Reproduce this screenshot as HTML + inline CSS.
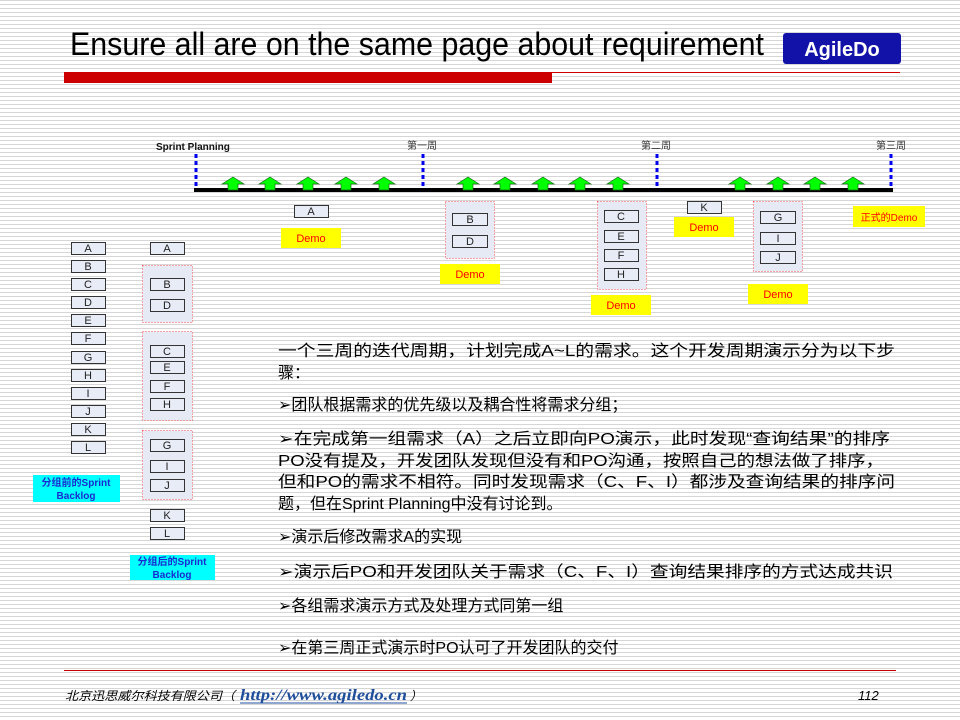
<!DOCTYPE html>
<html><head><meta charset="utf-8"><style>
html,body{margin:0;padding:0;}
body{width:960px;height:720px;overflow:hidden;background:#fff repeating-linear-gradient(to bottom,#d6d6d6 0,#d6d6d6 1px,#fff 1px,#fff 4px);}
svg{position:absolute;left:0;top:0;}
.t{font-family:"Liberation Sans","Noto Sans CJK SC",sans-serif;}
.b{font-family:"Liberation Sans",sans-serif;font-size:11px;fill:#222;text-anchor:middle;}
.d{font-family:"Liberation Sans",sans-serif;font-size:11px;fill:#ff0000;text-anchor:middle;}
.body{font-family:"Liberation Sans","Noto Sans CJK SC",sans-serif;font-size:16px;fill:#000;}
</style></head><body>
<svg width="960" height="720" viewBox="0 0 960 720">
<defs>
<g id="ar"><polygon points="0,7 11,0 22,7 16,7 16,13 6,13 6,7" fill="#00ff00" stroke="#1a6a1a" stroke-width="0.7"/></g>
</defs>
<!-- header -->
<text x="70" y="55" class="t" font-size="32" textLength="694" lengthAdjust="spacingAndGlyphs">Ensure all are on the same page about requirement</text>
<rect x="783" y="33" width="118" height="31" rx="3" fill="#1212a8"/>
<text x="842" y="56" font-family="Liberation Sans,sans-serif" font-weight="bold" font-size="20" fill="#fff" text-anchor="middle">AgileDo</text>
<rect x="64" y="72" width="488" height="11" fill="#cc0000"/>
<line x1="552" y1="72.5" x2="900" y2="72.5" stroke="#cc0000" stroke-width="1"/>

<!-- timeline -->
<text x="156" y="150" font-family="Liberation Sans,sans-serif" font-weight="bold" font-size="10" fill="#111">Sprint Planning</text>
<text x="407" y="149" class="t" font-size="10" fill="#333">第一周</text>
<text x="641" y="149" class="t" font-size="10" fill="#333">第二周</text>
<text x="876" y="149" class="t" font-size="10" fill="#333">第三周</text>
<g stroke="#0000ee" stroke-width="3" stroke-dasharray="4,3">
<line x1="196" y1="154" x2="196" y2="190"/>
<line x1="423" y1="154" x2="423" y2="190"/>
<line x1="657" y1="154" x2="657" y2="190"/>
<line x1="891" y1="154" x2="891" y2="190"/>
</g>
<rect x="194" y="188" width="699" height="4" fill="#000"/>
<use href="#ar" x="222" y="177"/><use href="#ar" x="259" y="177"/><use href="#ar" x="297" y="177"/><use href="#ar" x="335" y="177"/><use href="#ar" x="373" y="177"/>
<use href="#ar" x="457" y="177"/><use href="#ar" x="494" y="177"/><use href="#ar" x="532" y="177"/><use href="#ar" x="569" y="177"/><use href="#ar" x="607" y="177"/>
<use href="#ar" x="729" y="177"/><use href="#ar" x="767" y="177"/><use href="#ar" x="804" y="177"/><use href="#ar" x="842" y="177"/>

<!-- groups -->
<g fill="#e6eaf4" stroke="#ff5050" stroke-width="1" stroke-dasharray="1,2">
<rect x="445.5" y="201.5" width="49" height="57"/>
<rect x="597.5" y="201.5" width="49" height="88"/>
<rect x="753.5" y="201.5" width="49" height="70"/>
<rect x="142.5" y="265.5" width="50" height="57"/>
<rect x="142.5" y="331.5" width="50" height="89"/>
<rect x="142.5" y="430.5" width="50" height="69"/>
</g>
<g fill="#e8ecf6" stroke="#333" stroke-width="1">
<rect x="294.5" y="205.5" width="34" height="12"/>
<rect x="452.5" y="213.5" width="35" height="12"/><rect x="452.5" y="235.5" width="35" height="12"/>
<rect x="604.5" y="210.5" width="34" height="12"/><rect x="604.5" y="230.5" width="34" height="12"/><rect x="604.5" y="249.5" width="34" height="12"/><rect x="604.5" y="268.5" width="34" height="12"/>
<rect x="687.5" y="201.5" width="34" height="12"/>
<rect x="760.5" y="211.5" width="35" height="12"/><rect x="760.5" y="232.5" width="35" height="12"/><rect x="760.5" y="251.5" width="35" height="12"/>
<rect x="71.5" y="242.5" width="34" height="12"/><rect x="71.5" y="260.5" width="34" height="12"/><rect x="71.5" y="278.5" width="34" height="12"/><rect x="71.5" y="296.5" width="34" height="12"/><rect x="71.5" y="314.5" width="34" height="12"/><rect x="71.5" y="332.5" width="34" height="12"/><rect x="71.5" y="351.5" width="34" height="12"/><rect x="71.5" y="369.5" width="34" height="12"/><rect x="71.5" y="387.5" width="34" height="12"/><rect x="71.5" y="405.5" width="34" height="12"/><rect x="71.5" y="423.5" width="34" height="12"/><rect x="71.5" y="441.5" width="34" height="12"/>
<rect x="150.5" y="242.5" width="34" height="12"/>
<rect x="150.5" y="278.5" width="34" height="12"/><rect x="150.5" y="299.5" width="34" height="12"/>
<rect x="150.5" y="345.5" width="34" height="12"/><rect x="150.5" y="361.5" width="34" height="12"/><rect x="150.5" y="380.5" width="34" height="12"/><rect x="150.5" y="398.5" width="34" height="12"/>
<rect x="150.5" y="439.5" width="34" height="12"/><rect x="150.5" y="460.5" width="34" height="12"/><rect x="150.5" y="479.5" width="34" height="12"/>
<rect x="150.5" y="509.5" width="34" height="12"/><rect x="150.5" y="527.5" width="34" height="12"/>
</g>
<g class="b">
<text x="311" y="215">A</text>
<text x="470" y="223">B</text><text x="470" y="245">D</text>
<text x="621" y="220">C</text><text x="621" y="240">E</text><text x="621" y="259">F</text><text x="621" y="278">H</text>
<text x="704" y="211">K</text>
<text x="778" y="221">G</text><text x="778" y="242">I</text><text x="778" y="261">J</text>
<text x="88" y="252">A</text><text x="88" y="270">B</text><text x="88" y="288">C</text><text x="88" y="306">D</text><text x="88" y="324">E</text><text x="88" y="342">F</text><text x="88" y="361">G</text><text x="88" y="379">H</text><text x="88" y="397">I</text><text x="88" y="415">J</text><text x="88" y="433">K</text><text x="88" y="451">L</text>
<text x="167" y="252">A</text>
<text x="167" y="288">B</text><text x="167" y="309">D</text>
<text x="167" y="355">C</text><text x="167" y="371">E</text><text x="167" y="390">F</text><text x="167" y="408">H</text>
<text x="167" y="449">G</text><text x="167" y="470">I</text><text x="167" y="489">J</text>
<text x="167" y="519">K</text><text x="167" y="537">L</text>
</g>
<!-- demos -->
<g fill="#ffff00">
<rect x="281" y="228" width="60" height="20"/>
<rect x="440" y="264" width="60" height="20"/>
<rect x="591" y="295" width="60" height="20"/>
<rect x="674" y="217" width="60" height="20"/>
<rect x="748" y="284" width="60" height="20"/>
<rect x="853" y="206" width="72" height="21"/>
</g>
<g class="d">
<text x="311" y="242">Demo</text>
<text x="470" y="278">Demo</text>
<text x="621" y="309">Demo</text>
<text x="704" y="231">Demo</text>
<text x="778" y="298">Demo</text>
<text x="889" y="221" font-family="Liberation Sans,Noto Sans CJK SC,sans-serif" font-size="10">正式的Demo</text>
</g>
<!-- cyan labels -->
<rect x="33" y="475" width="87" height="27" fill="#00ffff"/>
<text x="76" y="486" text-anchor="middle" class="t" font-size="10" font-weight="bold" fill="#1a2ad0">分组前的Sprint</text>
<text x="76" y="499" text-anchor="middle" class="t" font-size="10" font-weight="bold" fill="#1a2ad0">Backlog</text>
<rect x="130" y="555" width="85" height="25" fill="#00ffff"/>
<text x="172" y="565" text-anchor="middle" class="t" font-size="10" font-weight="bold" fill="#1a2ad0">分组后的Sprint</text>
<text x="172" y="578" text-anchor="middle" class="t" font-size="10" font-weight="bold" fill="#1a2ad0">Backlog</text>

<!-- body text -->
<g class="body">
<text x="278" y="356" textLength="617" lengthAdjust="spacingAndGlyphs">一个三周的迭代周期，计划完成A~L的需求。这个开发周期演示分为以下步</text>
<text x="278" y="378">骤：</text>
<text x="278" y="410">➢团队根据需求的优先级以及耦合性将需求分组；</text>
<text x="278" y="444" textLength="612" lengthAdjust="spacingAndGlyphs">➢在完成第一组需求（A）之后立即向PO演示，此时发现“查询结果”的排序</text>
<text x="278" y="466" textLength="606" lengthAdjust="spacingAndGlyphs">PO没有提及，开发团队发现但没有和PO沟通，按照自己的想法做了排序，</text>
<text x="278" y="487" textLength="617" lengthAdjust="spacingAndGlyphs">但和PO的需求不相符。同时发现需求（C、F、I）都涉及查询结果的排序问</text>
<text x="278" y="509">题，但在Sprint Planning中没有讨论到。</text>
<text x="278" y="542">➢演示后修改需求A的实现</text>
<text x="278" y="577" textLength="615" lengthAdjust="spacingAndGlyphs">➢演示后PO和开发团队关于需求（C、F、I）查询结果排序的方式达成共识</text>
<text x="278" y="611">➢各组需求演示方式及处理方式同第一组</text>
<text x="278" y="653">➢在第三周正式演示时PO认可了开发团队的交付</text>
</g>
<!-- footer -->
<line x1="64" y1="670.5" x2="896" y2="670.5" stroke="#cc0000" stroke-width="1"/>
<text x="65" y="700" class="t" font-size="12" font-style="italic" fill="#000" textLength="170" lengthAdjust="spacingAndGlyphs">北京迅思威尔科技有限公司（</text>
<text x="240" y="700" font-family="Liberation Serif,serif" font-size="16" font-style="italic" font-weight="bold" fill="#1f4e9c" textLength="167" lengthAdjust="spacingAndGlyphs">http://www.agiledo.cn</text>
<line x1="240" y1="703" x2="407" y2="703" stroke="#1f4e9c" stroke-width="1"/>
<text x="410" y="700" class="t" font-size="12" font-style="italic">）</text>
<text x="858" y="700" font-family="Liberation Sans,sans-serif" font-size="13" font-style="italic">112</text>
</svg>
</body></html>
